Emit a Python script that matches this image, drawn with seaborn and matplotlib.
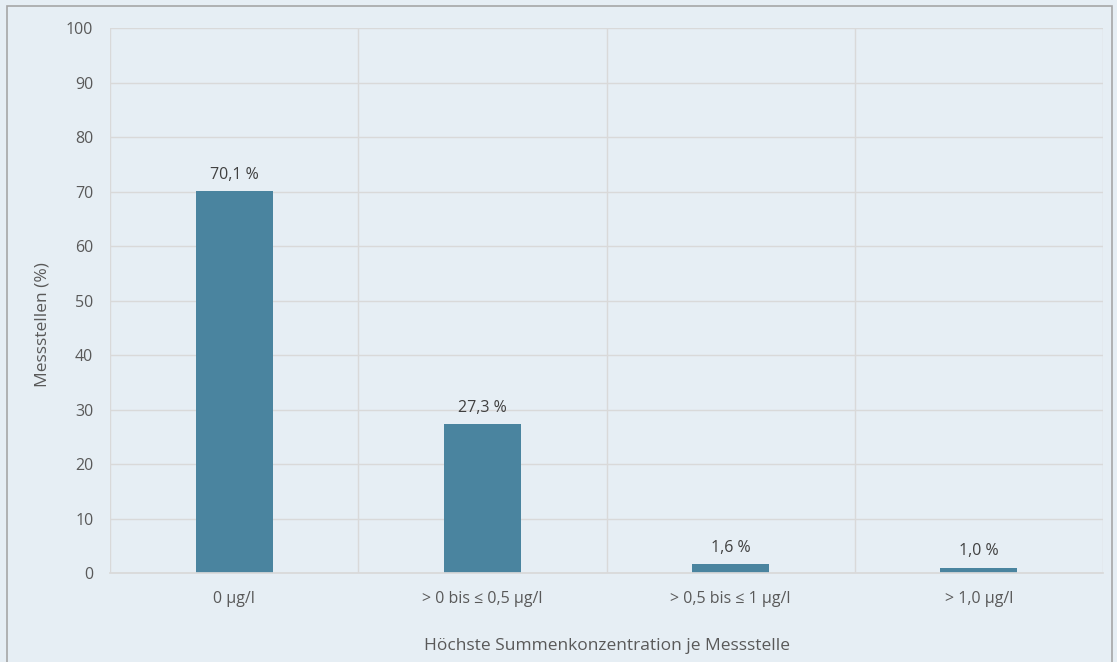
import pandas as pd
import matplotlib
matplotlib.use("Agg")
import matplotlib.pyplot as plt
import seaborn as sns
from matplotlib.patches import Rectangle

# data
categories = ["0 µg/l", "> 0 bis ≤ 0,5 µg/l", "> 0,5 bis ≤ 1 µg/l", "> 1,0 µg/l"]
values = [70.1, 27.3, 1.6, 1.0]
labels = ["70,1 %", "27,3 %", "1,6 %", "1,0 %"]

df = pd.DataFrame({"kategorie": categories, "anteil": values})

bg = "#E6EEF4"
bar_color = "#4A849F"
grid_color = "#D9D9D9"
text_color = "#595959"

sns.set_theme(style="white")
plt.rcParams['font.family'] = ['Open Sans', 'DejaVu Sans']

fig = plt.figure(figsize=(11.17, 6.62), dpi=100, facecolor=bg)
ax = fig.add_axes([0.0985, 0.1344, 0.889, 0.8233])
ax.set_facecolor(bg)

sns.barplot(data=df, x="kategorie", y="anteil", color=bar_color, width=0.31,
            saturation=1, linewidth=0, ax=ax)

# value labels
ax.bar_label(ax.containers[0], labels=labels, padding=6, fontsize=11.5, color="#404040")

ax.set_xlim(-0.5, len(categories) - 0.5)
ax.set_ylim(0, 100)
ax.set_yticks(range(0, 101, 10))
ax.set_xticks([i - 0.5 for i in range(len(categories) + 1)], minor=True)
ax.grid(True, axis="y", color=grid_color, lw=1)
ax.grid(True, axis="x", which="minor", color=grid_color, lw=1)
ax.set_axisbelow(True)
ax.tick_params(axis="both", which="both", length=0, labelsize=11.5, colors=text_color)
ax.tick_params(axis="x", pad=13)
ax.tick_params(axis="y", pad=12)
for s in ["top", "left", "right"]:
    ax.spines[s].set_visible(False)
ax.spines["bottom"].set_color(grid_color)

ax.set_xlabel("Höchste Summenkonzentration je Messstelle", fontsize=12.5,
              color=text_color, labelpad=22)
ax.set_ylabel("Messstellen (%)", fontsize=12.5, color=text_color)
ax.yaxis.set_label_coords(-0.060, 0.455)

# outer frame
fig.patches.append(Rectangle((7 / 1117, -0.05), 1105 / 1117, 1 - 6 / 662 + 0.05,
                             transform=fig.transFigure, fill=False,
                             edgecolor="#A6A6A6", lw=1.2))

fig.savefig("out.png", dpi=100, facecolor=bg)
